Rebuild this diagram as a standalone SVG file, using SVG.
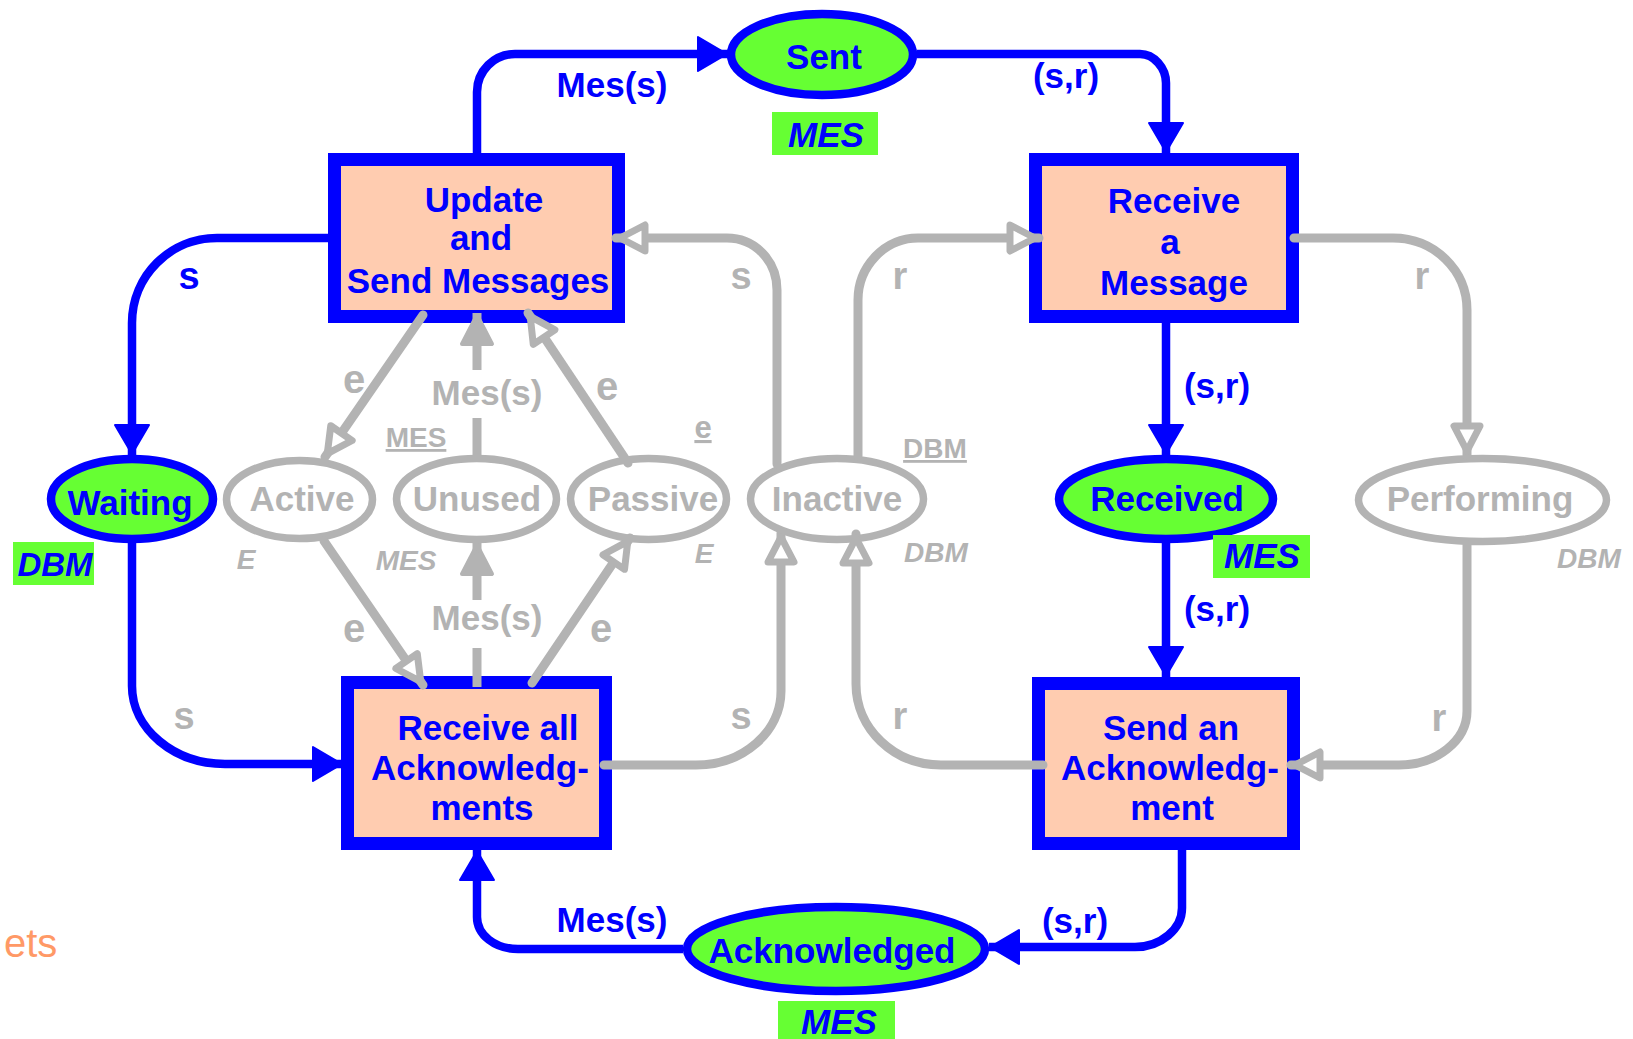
<svg xmlns="http://www.w3.org/2000/svg" width="1633" height="1039" viewBox="0 0 1633 1039">
  <defs>
    <style>
      text { font-family: "Liberation Sans", Arial, sans-serif; font-weight: bold; }
      .on { fill: #0000FF; }
      .off { fill: #B3B3B3; }
      .f35 { font-size: 35px; }
      .f38 { font-size: 38px; }
      .f40 { font-size: 40px; }
      .f28 { font-size: 28px; }
      .mid { text-anchor: middle; }
      .it { font-style: italic; }
      .ul { text-decoration: underline; }
      .place-on { fill: #66FF33; stroke: #0000FF; stroke-width: 8.5; }
      .place-off { fill: #FFFFFF; stroke: #B3B3B3; stroke-width: 7.5; }
      .trans { fill: #FFCCB0; stroke: #0000FF; stroke-width: 13; }
      .type { fill: #66FF33; }
      .arc-on { fill: none; stroke: #0000FF; stroke-width: 8.5; }
      .arc-off { fill: none; stroke: #B3B3B3; stroke-width: 9; stroke-linecap: round; }
      .butt { stroke-linecap: butt; }
      .head-on { marker-end: url(#headOn); }
      .head-fill { marker-end: url(#headFill); }
      .head-open { marker-end: url(#headOpen); }
    </style>
    <!-- arrowheads: origin sits on the tip -->
    <marker id="headOn" markerUnits="userSpaceOnUse" orient="auto" overflow="visible" refX="0" refY="0" markerWidth="1" markerHeight="1">
      <path d="M-30,-17 L-1,0 L-30,17 Z" fill="#0000FF" stroke="#0000FF" stroke-width="2" stroke-linejoin="round"/>
    </marker>
    <marker id="headFill" markerUnits="userSpaceOnUse" orient="auto" overflow="visible" refX="0" refY="0" markerWidth="1" markerHeight="1">
      <path d="M-31,-15 L-2,0 L-31,15 Z" fill="#B3B3B3" stroke="#B3B3B3" stroke-width="4" stroke-linejoin="round"/>
    </marker>
    <marker id="headOpen" markerUnits="userSpaceOnUse" orient="auto" overflow="visible" refX="0" refY="0" markerWidth="1" markerHeight="1">
      <path d="M-29,-13 L-4,0 L-29,13 Z" fill="#FFFFFF" stroke="#B3B3B3" stroke-width="7" stroke-linejoin="round"/>
    </marker>
  </defs>

  <rect x="0" y="0" width="1633" height="1039" fill="#FFFFFF"/>

  <!-- transitions -->
  <g id="transition-update">
    <rect class="trans" x="334.5" y="159.5" width="284" height="157"/>
    <text class="on f35 mid" x="484" y="212">Update</text>
    <text class="on f35 mid" x="481" y="250">and</text>
    <text class="on f35 mid" x="478" y="293">Send Messages</text>
  </g>
  <g id="transition-receive-message">
    <rect class="trans" x="1035.5" y="159.5" width="257" height="157"/>
    <text class="on f35 mid" x="1174" y="213">Receive</text>
    <text class="on f35 mid" x="1170" y="254">a</text>
    <text class="on f35 mid" x="1174" y="295">Message</text>
  </g>
  <g id="transition-receive-acks">
    <rect class="trans" x="347.5" y="682.5" width="258" height="161"/>
    <text class="on f35 mid" x="488" y="740">Receive all</text>
    <text class="on f35 mid" x="480" y="780">Acknowledg-</text>
    <text class="on f35 mid" x="482" y="820">ments</text>
  </g>
  <g id="transition-send-ack">
    <rect class="trans" x="1038.5" y="683.5" width="255" height="160"/>
    <text class="on f35 mid" x="1171" y="740">Send an</text>
    <text class="on f35 mid" x="1170" y="780">Acknowledg-</text>
    <text class="on f35 mid" x="1172" y="820">ment</text>
  </g>

  <!-- places -->
  <g id="place-sent">
    <ellipse class="place-on" cx="822" cy="54.5" rx="91" ry="40.5"/>
    <text class="on f35 mid" x="824" y="69">Sent</text>
    <rect class="type" x="772" y="112" width="106" height="43"/>
    <text class="on f35 mid it" x="826" y="147">MES</text>
  </g>
  <g id="place-waiting">
    <ellipse class="place-on" cx="132" cy="499" rx="81" ry="40"/>
    <text class="on f35 mid" x="130" y="515">Waiting</text>
    <rect class="type" x="13" y="542" width="81" height="43"/>
    <text class="on mid it" style="font-size:33px" x="55" y="576">DBM</text>
  </g>
  <g id="place-active">
    <ellipse class="place-off" cx="299.5" cy="499.5" rx="73" ry="39"/>
    <text class="off f35 mid" x="302" y="511">Active</text>
    <text class="off f28 mid it" x="246" y="569">E</text>
  </g>
  <g id="place-unused">
    <ellipse class="place-off" cx="476.5" cy="499" rx="80" ry="40.5"/>
    <text class="off f35 mid" x="477" y="511">Unused</text>
    <text class="off f28 mid ul" x="416" y="447">MES</text>
    <text class="off f28 mid it" x="406" y="570">MES</text>
  </g>
  <g id="place-passive">
    <ellipse class="place-off" cx="648.5" cy="499" rx="78" ry="40.5"/>
    <text class="off f35 mid" x="653" y="511">Passive</text>
    <text class="off mid ul" style="font-size:31px" x="703" y="438">e</text>
    <text class="off f28 mid it" x="704" y="563">E</text>
  </g>
  <g id="place-inactive">
    <ellipse class="place-off" cx="837" cy="499" rx="86.5" ry="40.5"/>
    <text class="off f35 mid" x="837" y="511">Inactive</text>
    <text class="off f28 mid ul" x="935" y="458">DBM</text>
    <text class="off f28 mid it" x="936" y="562">DBM</text>
  </g>
  <g id="place-received">
    <ellipse class="place-on" cx="1166" cy="499" rx="107" ry="40"/>
    <text class="on f35 mid" x="1167" y="511">Received</text>
    <rect class="type" x="1213" y="535" width="97" height="43"/>
    <text class="on f35 mid it" x="1262" y="568">MES</text>
  </g>
  <g id="place-performing">
    <ellipse class="place-off" cx="1482.5" cy="500" rx="124" ry="41.5"/>
    <text class="off f35 mid" x="1480" y="511">Performing</text>
    <text class="off f28 mid it" x="1589" y="568">DBM</text>
  </g>
  <g id="place-acknowledged">
    <ellipse class="place-on" cx="836" cy="949" rx="149" ry="42"/>
    <text class="on f35 mid" x="832" y="963">Acknowledged</text>
    <rect class="type" x="778" y="1001" width="117" height="38"/>
    <text class="on f35 mid it" x="839" y="1034">MES</text>
  </g>

  <!-- arcs and their inscriptions -->
  <g id="connectors">
    <!-- sender loop -->
    <path class="arc-on head-on" d="M477,153 V92 C477,71 494,54 515,54 H728"/>
    <path class="arc-on head-on" d="M917,54 H1140 C1154,54 1166,68 1166,83 V153"/>
    <path class="arc-on head-on" d="M1166,323 V455"/>
    <path class="arc-on head-on" d="M1166,543 V677"/>
    <path class="arc-on head-on" d="M1182,850 V908 C1182,929 1161,947 1135,947 H989"/>
    <path class="arc-on head-on" d="M683,949 H518 C495,949 477,935 477,917 V850"/>
    <path class="arc-on head-on" d="M328,238 H217 C170,238 132,276 132,323 V455"/>
    <path class="arc-on head-on" d="M132,543 V686 C132,729 174,764 225,764 H343"/>

    <!-- database loops -->
    <path class="arc-off head-open" d="M777,464 V290 C777,261 755,238 727,238 H616"/>
    <path class="arc-off head-open" d="M858,456 V300 C858,266 885,238 918,238 H1039"/>
    <path class="arc-off head-open" d="M1294,238 H1393 C1434,238 1467,270 1467,310 V455"/>
    <path class="arc-off head-open" d="M1043,765 H941 C894,765 856,729 856,684 V534"/>
    <path class="arc-off head-open" d="M604,765 H696 C743,765 781,732 781,691 V533"/>
    <path class="arc-off head-open" d="M1467,545 V711 C1467,741 1436,765 1399,765 H1291"/>

    <!-- message state arcs -->
    <path class="arc-off head-open" d="M423,315 L325,457"/>
    <path class="arc-off head-open" d="M628,463 L528,313"/>
    <path class="arc-off head-open" d="M324,541 L423,685"/>
    <path class="arc-off head-open" d="M532,683 L630,538"/>
    <path class="arc-off butt" d="M477,460 V418"/>
    <path class="arc-off butt head-fill" d="M477,370 V313"/>
    <path class="arc-off butt" d="M477,687 V648"/>
    <path class="arc-off butt head-fill" d="M477,600 V543"/>

    <!-- inscriptions -->
    <text class="on f35 mid" x="612" y="97">Mes(s)</text>
    <text class="on f35 mid" x="1066" y="88">(s,r)</text>
    <text class="on f38 mid" x="189" y="289">s</text>
    <text class="off f38 mid" x="741" y="289">s</text>
    <text class="off f38 mid" x="900" y="289">r</text>
    <text class="off f38 mid" x="1422" y="289">r</text>
    <text class="on f35 mid" x="1217" y="398">(s,r)</text>
    <text class="on f35 mid" x="1217" y="621">(s,r)</text>
    <text class="off f40 mid" x="354" y="393">e</text>
    <text class="off f40 mid" x="607" y="400">e</text>
    <text class="off f40 mid" x="354" y="642">e</text>
    <text class="off f40 mid" x="601" y="642">e</text>
    <text class="off f35 mid" x="487" y="405">Mes(s)</text>
    <text class="off f35 mid" x="487" y="630">Mes(s)</text>
    <text class="off f38 mid" x="184" y="729">s</text>
    <text class="off f38 mid" x="741" y="729">s</text>
    <text class="off f38 mid" x="900" y="729">r</text>
    <text class="off f38 mid" x="1439" y="731">r</text>
    <text class="on f35 mid" x="612" y="932">Mes(s)</text>
    <text class="on f35 mid" x="1075" y="933">(s,r)</text>
  </g>

  <text x="4" y="957" style="font-weight:normal;font-size:40px" fill="#FF9966">ets</text>
</svg>
